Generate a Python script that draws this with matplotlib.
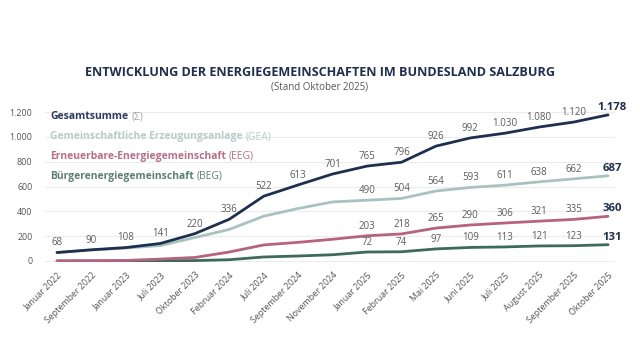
import matplotlib
matplotlib.use("Agg")
import matplotlib.pyplot as plt
from matplotlib.ticker import FuncFormatter

plt.rcParams['font.family'] = ['Open Sans', 'DejaVu Sans']

# Daten (Stand Oktober 2025)
monate = ['Januar 2022', 'September 2022', 'Januar 2023', 'Juli 2023', 'Oktober 2023',
          'Februar 2024', 'Juli 2024', 'September 2024', 'November 2024', 'Januar 2025',
          'Februar 2025', 'Mai 2025', 'Juni 2025', 'Juli 2025', 'August 2025',
          'September 2025', 'Oktober 2025']
gesamt = [68, 90, 108, 141, 220, 336, 522, 613, 701, 765, 796, 926, 992, 1030, 1080, 1120, 1178]
gea = [68, 88, 104, 124, 189, 254, 361, 423, 476, 490, 504, 564, 593, 611, 638, 662, 687]
eeg = [0, 2, 4, 15, 28, 72, 129, 150, 175, 203, 218, 265, 290, 306, 321, 335, 360]
beg = [0, 0, 0, 2, 3, 10, 32, 40, 50, 72, 74, 97, 109, 113, 121, 123, 131]

serien = [
    ('Gesamtsumme', '(Σ)', gesamt, '#1e2f4f', '#2a3a5a', 0),
    ('Gemeinschaftliche Erzeugungsanlage', '(GEA)', gea, '#a8c3bf', '#b9ccc9', 9),
    ('Erneuerbare-Energiegemeinschaft', '(EEG)', eeg, '#b5637f', '#b5708a', 9),
    ('Bürgerenergiegemeinschaft', '(BEG)', beg, '#3e6a5e', '#5f7f79', 9),
]


def de_format(v):
    return f'{int(v):,}'.replace(',', '.')


fig = plt.figure(figsize=(6.4, 3.6), dpi=100)
ax = fig.add_axes([0.0703, 0.2717, 0.8906, 0.434])
x = list(range(len(monate)))

# Reihenfolge: Gesamt zuletzt zeichnen (oben)
for name, abk, werte, farbe, tfarbe, ab in reversed(serien):
    ax.plot(x, werte, color=farbe, lw=2.0, solid_capstyle='round', zorder=3)
    for i in range(ab, len(werte) - 1):
        ax.annotate(de_format(werte[i]), (x[i], werte[i]), xytext=(0, 3),
                    textcoords='offset points', ha='center', va='bottom',
                    fontsize=7, color='#5c5c5c', zorder=4)
    ax.annotate(de_format(werte[-1]), (x[-1], werte[-1]), xytext=(3, 1.5),
                textcoords='offset points', ha='center', va='bottom',
                fontsize=8.2, fontweight='bold', color='#1e2f4f', zorder=4)

ax.set_xlim(-0.35, 16.2)
ax.set_ylim(-10, 1250)
ax.set_yticks(range(0, 1201, 200))
ax.yaxis.set_major_formatter(FuncFormatter(lambda v, p: de_format(v)))
ax.set_xticks(x)
ax.set_xticklabels(monate, rotation=45, ha='right', rotation_mode='anchor')
ax.tick_params(axis='both', length=0, labelsize=6.4, colors='#555555')
ax.tick_params(axis='y', pad=9)
ax.tick_params(axis='x', pad=6)
ax.grid(axis='y', color='#ececec', lw=0.8)
ax.set_axisbelow(True)
for s in ax.spines.values():
    s.set_visible(False)

# Legende als Text im Diagramm
fig.canvas.draw()
renderer = fig.canvas.get_renderer()
leg_y = [117, 137, 156, 176]
for (name, abk, werte, farbe, tfarbe, ab), py in zip(serien, leg_y):
    t = fig.text(50 / 640, 1 - py / 360, name, fontsize=7.5, fontweight='bold',
                 color=tfarbe, va='center', ha='left')
    bb = t.get_window_extent(renderer)
    fig.text((bb.x1 + 3) / 640, 1 - py / 360, abk, fontsize=7.5,
             color='#a5a5a5' if ab == 0 else tfarbe, va='center', ha='left')

fig.text(0.5, 1 - 72 / 360, 'ENTWICKLUNG DER ENERGIEGEMEINSCHAFTEN IM BUNDESLAND SALZBURG',
         ha='center', va='center', fontsize=9.1, fontweight='bold', color='#1e2f4f')
fig.text(0.5, 1 - 87 / 360, '(Stand Oktober 2025)', ha='center', va='center',
         fontsize=7, color='#555555')

fig.savefig('out.png', dpi=100, facecolor='white')
